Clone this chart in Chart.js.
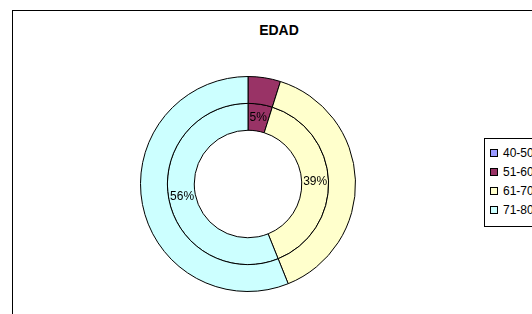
<!DOCTYPE html>
<html>
<head>
<meta charset="utf-8">
<script src="https://cdn.jsdelivr.net/npm/chart.js@4.4.1/dist/chart.umd.min.js"></script>
<style>
    html, body { margin: 0; padding: 0; background: #fff; }
    body { width: 532px; height: 314px; position: relative; overflow: hidden; font-family: "Liberation Sans", Arial, sans-serif; }
    .frame { position: absolute; left: 12px; top: 10px; width: 600px; height: 400px; border: 1px solid #000; }
    .title { position: absolute; left: 0; width: 558px; top: 22px; text-align: center; font-weight: bold; font-size: 14px; color: #000; }
    #chart-wrap { position: absolute; left: 0; top: 0; width: 532px; height: 314px; }
    .legend { position: absolute; left: 484px; top: 138px; width: 80px; border: 1px solid #000; padding: 5px 0 6px 5px; background: #fff; }
    .legend-item { font-size: 12px; line-height: 19px; height: 19px; white-space: nowrap; color: #000; }
    .legend-swatch { display: inline-block; width: 6px; height: 6px; border: 1px solid #000; margin-right: 5px; vertical-align: 0px; }
</style>
</head>
<body>
<div class="frame"></div>
<div class="title">EDAD</div>
<div id="chart-wrap"><canvas id="chart" width="532" height="314"></canvas></div>
<div class="legend" id="legend"></div>
<script>
const categories = ['40-50', '51-60', '61-70', '71-80'];
const outerValues = [0, 2, 16, 23];
const innerValues = [0, 2, 16, 23];
const sliceColors = ['#9999FF', '#993366', '#FFFFCC', '#CCFFFF'];

// Build the legend box
const legend = document.getElementById('legend');
legend.innerHTML = categories.map((c, i) =>
    `<div class="legend-item"><span class="legend-swatch" style="background:${sliceColors[i]}"></span>${c}</div>`
).join('');

// Percent labels on the inner ring only
const percentLabels = {
    id: 'percentLabels',
    afterDatasetsDraw(chart) {
        const ctx = chart.ctx;
        const meta = chart.getDatasetMeta(1);
        const values = chart.data.datasets[1].data;
        const total = values.reduce((a, b) => a + b, 0);
        ctx.save();
        ctx.fillStyle = '#000';
        ctx.font = '12px "Liberation Sans", Arial, sans-serif';
        ctx.textAlign = 'center';
        ctx.textBaseline = 'middle';
        meta.data.forEach((arc, i) => {
            if (!values[i]) return;
            const p = arc.tooltipPosition();
            ctx.fillText(Math.round(values[i] / total * 100) + '%', p.x, p.y);
        });
        ctx.restore();
    }
};

new Chart(document.getElementById('chart'), {
    type: 'doughnut',
    data: {
        labels: categories,
        datasets: [
            { data: outerValues, backgroundColor: sliceColors, borderColor: '#000', borderWidth: 1 },
            { data: innerValues, backgroundColor: sliceColors, borderColor: '#000', borderWidth: 1 }
        ]
    },
    options: {
        responsive: false,
        animation: false,
        cutout: '50%',
        layout: { padding: { left: 140, right: 176, top: 76, bottom: 22 } },
        plugins: {
            legend: { display: false },
            tooltip: { enabled: false }
        }
    },
    plugins: [percentLabels]
});
</script>
</body>
</html>
